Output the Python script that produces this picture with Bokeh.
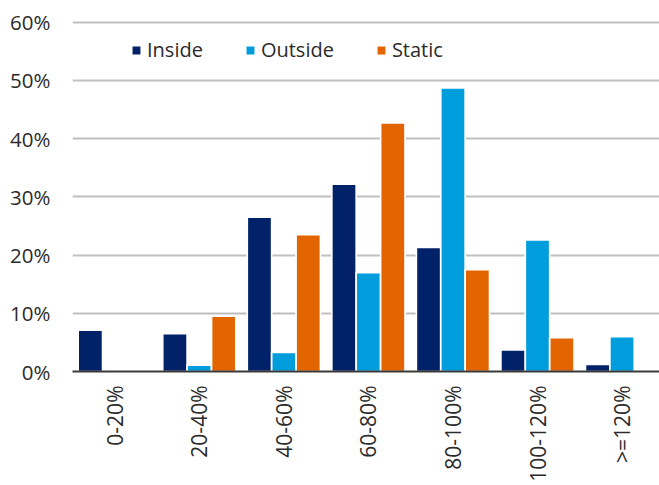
from bokeh.plotting import figure
from bokeh.models import (ColumnDataSource, Range1d, FixedTicker, PrintfTickFormatter,
                          Legend, LegendItem)
from bokeh.embed import file_html
from bokeh.resources import INLINE

# Share of observations per bucket (%)
buckets = ["0-20%", "20-40%", "40-60%", "60-80%", "80-100%", "100-120%", ">=120%"]
inside = [7.1, 6.5, 26.5, 32.2, 21.3, 3.7, 1.2]
outside = [0.0, 1.1, 3.3, 17.0, 48.7, 22.6, 6.0]
static = [0.0, 9.5, 23.5, 42.7, 17.5, 5.8, 0.0]

series_names = ["Inside", "Outside", "Static"]
series_values = [inside, outside, static]
series_colors = ["#012169", "#009DDC", "#E36500"]

FONT = "Open Sans"
TEXT_COLOR = "#2b2b2b"

n = len(buckets)
centers = [i + 0.5 for i in range(n)]
bar_w = 0.2886

p = figure(width=659, height=485, output_backend="svg", toolbar_location=None,
           x_range=Range1d(0, 6.943), y_range=Range1d(0, 60.98),
           min_border_left=72, min_border_right=0, min_border_top=16,
           min_border_bottom=114, outline_line_color=None,
           background_fill_color="white", border_fill_color="white")

renderers = []
for k, (name, vals, col) in enumerate(zip(series_names, series_values, series_colors)):
    src = ColumnDataSource(dict(x=[c + (k - 1) * bar_w for c in centers], top=vals))
    r = p.vbar(x="x", top="top", bottom=0, width=bar_w, source=src,
               fill_color=col, line_color="white", line_width=1.7)
    renderers.append((name, r))

# y axis: percent ticks every 10
p.yaxis.ticker = FixedTicker(ticks=[0, 10, 20, 30, 40, 50, 60])
p.yaxis.formatter = PrintfTickFormatter(format="%d%%")
p.yaxis.axis_line_color = None
p.yaxis.major_tick_line_color = None
p.yaxis.minor_tick_line_color = None
p.yaxis.major_tick_out = 0
p.yaxis.major_tick_in = 0
p.yaxis.major_label_standoff = 22
p.yaxis.major_label_text_font = FONT
p.yaxis.major_label_text_font_size = "20.5px"
p.yaxis.major_label_text_color = TEXT_COLOR

# x axis: bucket labels, vertical
p.xaxis.ticker = FixedTicker(ticks=centers)
p.xaxis.major_label_overrides = {c: b for c, b in zip(centers, buckets)}
p.xaxis.major_label_orientation = 3.14159265 / 2
p.xaxis.axis_line_color = "#3a3a3a"
p.xaxis.axis_line_width = 2
p.xaxis.major_tick_line_color = None
p.xaxis.minor_tick_line_color = None
p.xaxis.major_tick_out = 0
p.xaxis.major_tick_in = 0
p.xaxis.major_label_standoff = 14
p.xaxis.major_label_text_font = FONT
p.xaxis.major_label_text_font_size = "21px"
p.xaxis.major_label_text_color = TEXT_COLOR

p.xgrid.grid_line_color = None
p.ygrid.ticker = FixedTicker(ticks=[10, 20, 30, 40, 50, 60])
p.ygrid.grid_line_color = "#BFBFBF"
p.ygrid.grid_line_width = 2

legend = Legend(items=[LegendItem(label=nm, renderers=[r]) for nm, r in renderers],
                location=(58, 308), orientation="horizontal",
                glyph_width=12, glyph_height=12, label_standoff=5, spacing=41,
                padding=0, margin=0,
                label_text_font=FONT, label_text_font_size="20px",
                label_text_color=TEXT_COLOR,
                background_fill_alpha=0, border_line_alpha=0)
p.add_layout(legend, "center")

open("out.html", "w").write(file_html(p, INLINE))
